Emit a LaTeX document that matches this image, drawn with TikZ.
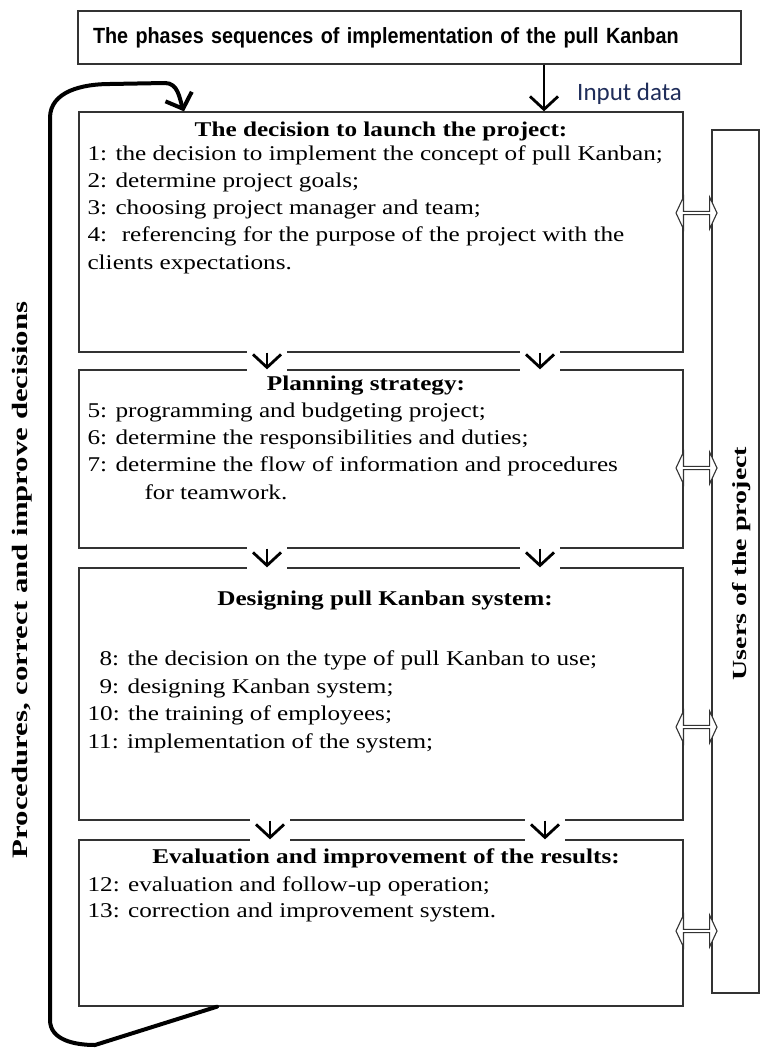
\documentclass[tikz,border=0pt]{standalone}
\usepackage{fontspec}
\setmainfont{Liberation Serif}[FakeStretch=1.2]
\newfontfamily\titlefont{Liberation Sans}[FakeStretch=0.9]
\newfontfamily\sidefont{Liberation Serif}[FakeStretch=1.4]
\newfontfamily\notefont{Carlito}
\usetikzlibrary{arrows.meta,positioning,shapes.arrows,calc}
\definecolor{notecolor}{RGB}{31,45,90}

\begin{document}
\begin{tikzpicture}[x=1pt, y=-1pt,
  >={Straight Barb[length=13pt,width=28pt]},
  every node/.style={inner sep=0pt},
  phase/.style={draw=black!80, line width=1.3pt, minimum width=604pt},
  head/.style={font=\bfseries\fontsize{21}{27}\selectfont, anchor=base},
  item/.style={font=\fontsize{21}{27}\selectfont, anchor=base west},
  flow/.style={->, line width=2.8pt},
  feedback/.style={->, line width=4pt, line cap=round, line join=round},
  link/.style={double arrow, draw=black!80, fill=white, line width=1.1pt,
    minimum height=41pt, minimum width=32pt, double arrow head extend=5pt,
    double arrow tip angle=130}]
  \useasboundingbox (0,0) rectangle (760,1048);

  % header and the four phases
  \node[draw=black!80, line width=1.3pt, minimum height=53pt, text width=633pt,
    inner xsep=15pt, align=left, font=\titlefont\bfseries\fontsize{22}{26}\selectfont]
    (title) at (409.5,37.5) {The phases sequences of implementation of the pull Kanban};
  \node[phase, minimum height=240pt] (launch) at (381,232) {};
  \node[phase, minimum height=178pt] (plan) at (381,459) {};
  \node[phase, minimum height=252pt] (design) at (381,694) {};
  \node[phase, minimum height=166pt] (evaluate) at (381,923) {};
  \node[draw=black!80, line width=1.3pt, minimum width=47pt, minimum height=863pt]
    (users) at (735.5,561.5) {};

  % headings
  \node[head] (launchHead) at ([shift={(0,25)}]launch.north) {The decision to launch the project:};
  \node[head] (planHead) at ([shift={(-15,21)}]plan.north) {Planning strategy:};
  \node[head] (designHead) at ([shift={(4,38)}]design.north) {Designing pull Kanban system:};
  \node[head] (evaluateHead) at ([shift={(5,24)}]evaluate.north) {Evaluation and improvement of the results:};

  % steps
  \foreach \txt [count=\k] in {{1: the decision to implement the concept of pull Kanban;},
      {2: determine project goals;}, {3: choosing project manager and team;},
      {4:~ referencing for the purpose of the project with the}, {clients expectations.}}
    \node[item] (launch-\k) at ([shift={(9,{49+27.2*(\k-1)})}]launch.north west) {\txt};
  \foreach \txt [count=\k] in {{5: programming and budgeting project;},
      {6: determine the responsibilities and duties;},
      {7: determine the flow of information and procedures},
      {\hspace*{57pt}for teamwork.}}
    \node[item] (plan-\k) at ([shift={(9,{48+27.3*(\k-1)})}]plan.north west) {\txt};
  \foreach \txt [count=\k] in {{\hspace*{12pt}8: the decision on the type of pull Kanban to use;},
      {\hspace*{12pt}9: designing Kanban system;}, {10: the training of employees;},
      {11: implementation of the system;}}
    \node[item] (design-\k) at ([shift={(9,{98+27.7*(\k-1)})}]design.north west) {\txt};
  \foreach \txt [count=\k] in {{12: evaluation and follow-up operation;},
      {13: correction and improvement system.}}
    \node[item] (evaluate-\k) at ([shift={(9,{52+26.5*(\k-1)})}]evaluate.north west) {\txt};

  % arrows between the phases
  \foreach \upper/\lower/\xa/\xb in {launch/plan/267/540, plan/design/267/540, design/evaluate/270/545} {
    \coordinate (gA) at (\xa,0);
    \coordinate (gB) at (\xb,0);
    \fill[white] ($(\upper.south -| gA)+(-20,-2)$) rectangle ($(\lower.north -| gA)+(20,2)$);
    \fill[white] ($(\upper.south -| gB)+(-20,-2)$) rectangle ($(\lower.north -| gB)+(20,2)$);
    \draw[flow] (\upper.south -| gA) -- (\lower.north -| gA);
    \draw[flow] (\upper.south -| gB) -- (\lower.north -| gB);
  }

  % input
  \coordinate (inA) at (544,0);
  \draw[flow] (title.south -| inA) -- (launch.north -| inA);
  \node[anchor=base west, font=\notefont\fontsize{25}{28}\selectfont, text=notecolor]
    (inputData) at (577,101) {Input data};

  % links to the users
  \node[rotate=90, font=\sidefont\bfseries\fontsize{20}{24}\selectfont]
    (usersLabel) at ([xshift=6pt, yshift=-2pt]users.center) {Users of the project};
  \foreach \ph/\yy in {launch/213, plan/468, design/727, evaluate/931}
    \node[link] (link-\ph) at (696.5,\yy) {};

  % feedback loop
  \coordinate (loopStart) at (217,0);
  \coordinate (loopEnd) at (184,0);
  \draw[feedback] (evaluate.south -| loopStart) -- (95,1045)
    to[out=180, in=-90] (50,1020) -- (50,118)
    to[out=90, in=180] (110,84) -- (165,83)
    to[out=0, in=110] (launch.north -| loopEnd);
  \node[rotate=90, font=\sidefont\bfseries\fontsize{22}{26}\selectfont]
    (procLabel) at (22,580) {Procedures, correct and improve decisions};
\end{tikzpicture}
\end{document}
